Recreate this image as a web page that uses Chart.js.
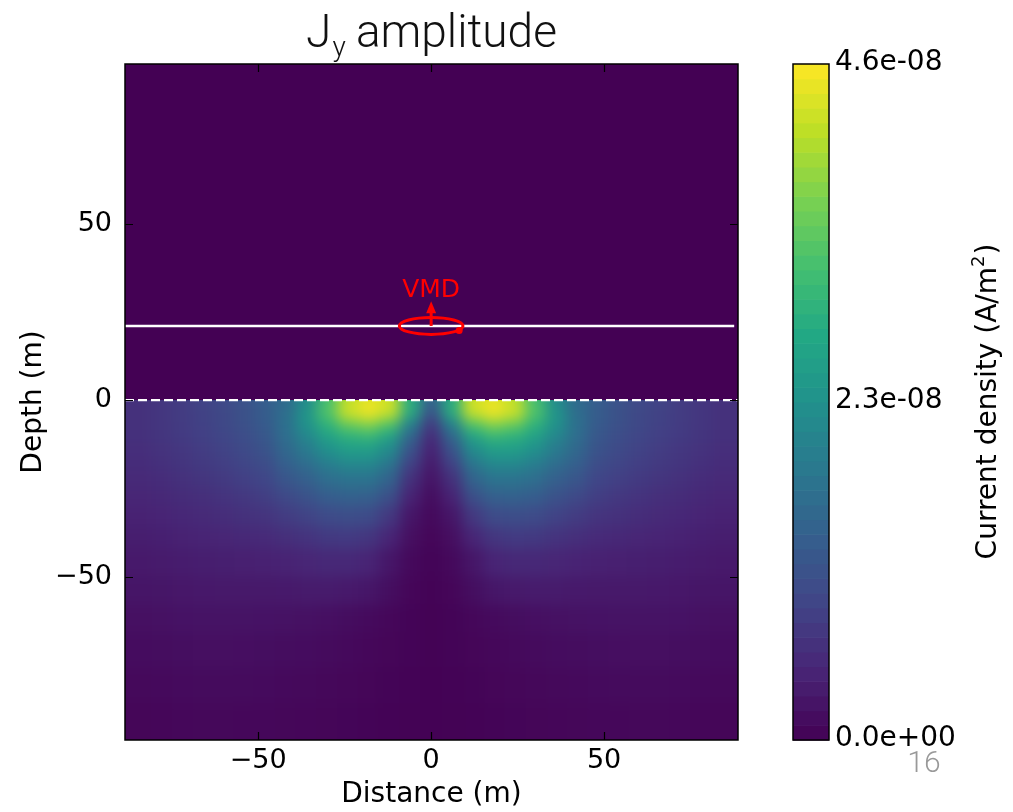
<!DOCTYPE html>
<html>
<head>
<meta charset="utf-8">
<script src="https://cdn.jsdelivr.net/npm/chart.js@4.4.1/dist/chart.umd.min.js"></script>
<style>
  html, body { margin: 0; padding: 0; background: #fff; }
  #wrap { width: 1013px; height: 812px; }
</style>
</head>
<body>
<div id="wrap"><canvas id="c" width="1013" height="812"></canvas></div>
<script>
// ----- data (Jy amplitude, in 1e-9 A/m2) -----
const xCenters = [-84, -78, -72, -66, -60, -54, -48, -42, -36, -30, -24, -18, -12, -6, 0,
                  6, 12, 18, 24, 30, 36, 42, 48, 54, 60, 66, 72, 78, 84];
const depthEdges = [0, -2, -4, -6, -9, -12, -16, -20, -25, -30, -36, -42, -50, -58, -66, -76, -86, -96.3];

const jyRows = [
  [6.5,7.2,8,9,10,11.5,13.5,16,22,32,41,44,42,28,14,28,42,44,41,32,22,16,13.5,11.5,10,9,8,7.2,6.5],
  [6.6,7.3,8.1,9,10,11.5,13.5,16.5,24,34,44,46,44,30,13,30,44,46,44,34,24,16.5,13.5,11.5,10,9,8.1,7.3,6.6],
  [6.6,7.3,8,9,10,11.5,13.5,17,24,32,40,43,39,25,10,25,39,43,40,32,24,17,13.5,11.5,10,9,8,7.3,6.6],
  [6.5,7.2,8,8.8,9.8,11.2,13,17,23,29,34,36,32,19,7.5,19,32,36,34,29,23,17,13,11.2,9.8,8.8,8,7.2,6.5],
  [6.3,7,7.8,8.6,9.5,10.8,12.5,16.5,21,26,29,30,26,15,5.5,15,26,30,29,26,21,16.5,12.5,10.8,9.5,8.6,7.8,7,6.3],
  [6.1,6.7,7.4,8.2,9,10.2,11.8,15.5,19,23,25.5,25.5,22,12,4.4,12,22,25.5,25.5,23,19,15.5,11.8,10.2,9,8.2,7.4,6.7,6.1],
  [5.8,6.3,7,7.7,8.5,9.5,10.8,14,16.5,19.5,21.5,21.5,18,9,3.4,9,18,21.5,21.5,19.5,16.5,14,10.8,9.5,8.5,7.7,7,6.3,5.8],
  [5.4,5.8,6.4,7,7.7,8.6,9.6,12.2,14,16.5,17.5,17.5,14.5,6.5,2.5,6.5,14.5,17.5,17.5,16.5,14,12.2,9.6,8.6,7.7,7,6.4,5.8,5.4],
  [4.9,5.2,5.7,6.2,6.8,7.5,8.3,10,11.5,13.5,14.2,14,11,4.5,1.6,4.5,11,14,14.2,13.5,11.5,10,8.3,7.5,6.8,6.2,5.7,5.2,4.9],
  [4.3,4.6,5,5.4,5.9,6.4,6.9,8,9,10.4,10.8,10.4,7.5,2.8,1.1,2.8,7.5,10.4,10.8,10.4,9,8,6.9,6.4,5.9,5.4,5,4.6,4.3],
  [3.8,4,4.3,4.6,4.9,5.2,5.5,6.2,6.8,7.6,7.8,7.2,4.8,1.8,0.7,1.8,4.8,7.2,7.8,7.6,6.8,6.2,5.5,5.2,4.9,4.6,4.3,4,3.8],
  [3.2,3.4,3.6,3.8,3.9,4.1,4.2,4.5,4.9,5.2,5.2,4.6,2.8,1.1,0.4,1.1,2.8,4.6,5.2,5.2,4.9,4.5,4.2,4.1,3.9,3.8,3.6,3.4,3.2],
  [2.6,2.7,2.9,3,3.1,3.1,3.1,3.2,3.4,3.4,3.2,2.8,1.7,0.7,0.3,0.7,1.7,2.8,3.2,3.4,3.4,3.2,3.1,3.1,3.1,3,2.9,2.7,2.6],
  [2,2.1,2.3,2.4,2.4,2.35,2.3,2.2,2.1,1.9,1.6,1.2,0.8,0.45,0.2,0.45,0.8,1.2,1.6,1.9,2.1,2.2,2.3,2.35,2.4,2.4,2.3,2.1,2],
  [1.5,1.6,1.7,1.8,1.8,1.75,1.7,1.6,1.5,1.3,1.05,0.85,0.6,0.35,0.2,0.35,0.6,0.85,1.05,1.3,1.5,1.6,1.7,1.75,1.8,1.8,1.7,1.6,1.5],
  [1,1.1,1.2,1.3,1.3,1.25,1.2,1.1,1,0.9,0.75,0.6,0.4,0.25,0.15,0.25,0.4,0.6,0.75,0.9,1,1.1,1.2,1.25,1.3,1.3,1.2,1.1,1],
  [0.6,0.7,0.8,0.9,0.9,0.85,0.8,0.75,0.7,0.6,0.5,0.4,0.3,0.2,0.1,0.2,0.3,0.4,0.5,0.6,0.7,0.75,0.8,0.85,0.9,0.9,0.8,0.7,0.6]
];
const jyMax = 46;

const xMin = -88.5, xMax = 88.7;
const yMin = -96.3, yMax = 95.2;
const xTicks = [-50, 0, 50];
const yTicks = [-50, 0, 50];
const cbTicks = [0, 23, 46];
const cbTickLabels = ['0.0e+00', '2.3e-08', '4.6e-08'];

const receiverLine = [{ x: -88.5, y: 21 }, { x: 87.6, y: 21 }];
const surfaceLine = [{ x: -88.5, y: 0 }, { x: 88.7, y: 0 }];
const loopCenter = { x: 0, y: 21 };
const loopRadius = 9.2, loopFlat = 2.4, momentTop = 28;

// ----- viridis -----
const viridisStops = ['#440154', '#482475', '#414487', '#355f8d', '#2a788e', '#21918c',
                      '#22a884', '#44bf70', '#7ad151', '#bddf26', '#fde725'];
function hexRgb(h) {
  return [parseInt(h.slice(1, 3), 16), parseInt(h.slice(3, 5), 16), parseInt(h.slice(5, 7), 16)];
}
function viridis(t) {
  t = Math.max(0, Math.min(1, t));
  const p = t * 10, i = Math.min(9, Math.floor(p)), f = p - i;
  const a = hexRgb(viridisStops[i]), b = hexRgb(viridisStops[i + 1]);
  const c = a.map((v, k) => Math.round(v + (b[k] - v) * f));
  return 'rgb(' + c.join(',') + ')';
}

const tickFont = { family: 'DejaVu Sans', size: 27 };
const labelFont = { family: 'DejaVu Sans', size: 28 };
function fmtTick(v) {
  return v < 0 ? '\u2212' + Math.abs(v) : '' + v;
}

// --- heat map of the field, drawn under the lines ---
const fieldPlugin = {
  id: 'jyField',
  beforeDatasetsDraw(chart) {
    const { ctx, chartArea: a, scales: { x, y } } = chart;
    ctx.save();
    ctx.fillStyle = viridis(0);
    ctx.fillRect(a.left, a.top, a.right - a.left, a.bottom - a.top);

    const off = document.createElement('canvas');
    off.width = chart.width;
    off.height = chart.height;
    const o = off.getContext('2d');
    const pad = 30;
    jyRows.forEach((row, r) => {
      let top = y.getPixelForValue(depthEdges[r]);
      let bot = y.getPixelForValue(depthEdges[r + 1]);
      if (r === 0) top -= pad;
      if (r === jyRows.length - 1) bot += pad;
      row.forEach((v, c) => {
        let l = x.getPixelForValue(c === 0 ? xMin : (xCenters[c - 1] + xCenters[c]) / 2);
        let rt = x.getPixelForValue(c === row.length - 1 ? xMax : (xCenters[c] + xCenters[c + 1]) / 2);
        if (c === 0) l -= pad;
        if (c === row.length - 1) rt += pad;
        o.fillStyle = viridis(v / jyMax);
        o.fillRect(l, top, rt - l + 0.6, bot - top + 0.6);
      });
    });
    const y0 = y.getPixelForValue(0);
    ctx.beginPath();
    ctx.rect(a.left, y0, a.right - a.left, a.bottom - y0);
    ctx.clip();
    ctx.filter = 'blur(7px)';
    ctx.drawImage(off, 0, 0);
    ctx.restore();
  }
};

// --- frame, ticks, VMD, colorbar, title ---
const framePlugin = {
  id: 'frame',
  afterDatasetsDraw(chart) {
    const { ctx, chartArea: a, scales: { x, y, cb } } = chart;
    ctx.save();

    // VMD loop
    const cx = x.getPixelForValue(loopCenter.x), cy = y.getPixelForValue(loopCenter.y);
    const rx = x.getPixelForValue(loopCenter.x + loopRadius) - cx;
    const ry = y.getPixelForValue(loopCenter.y) - y.getPixelForValue(loopCenter.y + loopFlat);
    ctx.strokeStyle = '#ff0000';
    ctx.fillStyle = '#ff0000';
    ctx.lineWidth = 3;
    ctx.beginPath();
    ctx.ellipse(cx, cy, rx, ry, 0, 0, Math.PI * 2);
    ctx.stroke();
    ctx.beginPath();
    ctx.arc(cx + rx * 0.88, cy + ry * 0.55, 3.5, 0, Math.PI * 2);
    ctx.fill();
    const tipY = y.getPixelForValue(momentTop);
    ctx.beginPath();
    ctx.moveTo(cx, cy);
    ctx.lineTo(cx, tipY + 10);
    ctx.stroke();
    ctx.beginPath();
    ctx.moveTo(cx, tipY);
    ctx.lineTo(cx - 5, tipY + 12);
    ctx.lineTo(cx + 5, tipY + 12);
    ctx.closePath();
    ctx.fill();
    ctx.font = '25px "DejaVu Sans"';
    ctx.textAlign = 'center';
    ctx.textBaseline = 'alphabetic';
    ctx.fillText('VMD', cx, tipY - 4);

    // frame + inward ticks
    ctx.strokeStyle = '#000';
    ctx.lineWidth = 1.5;
    ctx.strokeRect(a.left, a.top, a.right - a.left, a.bottom - a.top);
    ctx.lineWidth = 1.2;
    ctx.beginPath();
    xTicks.forEach(v => {
      const px = Math.round(x.getPixelForValue(v)) + 0.5;
      ctx.moveTo(px, a.bottom); ctx.lineTo(px, a.bottom - 8);
      ctx.moveTo(px, a.top); ctx.lineTo(px, a.top + 8);
    });
    yTicks.forEach(v => {
      const py = Math.round(y.getPixelForValue(v)) + 0.5;
      ctx.moveTo(a.left, py); ctx.lineTo(a.left + 8, py);
      ctx.moveTo(a.right, py); ctx.lineTo(a.right - 8, py);
    });
    ctx.stroke();

    // colorbar
    const cbL = 793, cbW = 36;
    for (let k = 0; k < jyMax; k++) {
      const t0 = cb.getPixelForValue(k), t1 = cb.getPixelForValue(k + 1);
      ctx.fillStyle = viridis((k + 0.5) / jyMax);
      ctx.fillRect(cbL, t1, cbW, t0 - t1 + 0.6);
    }
    ctx.strokeStyle = '#000';
    ctx.lineWidth = 1.5;
    ctx.strokeRect(cbL, cb.getPixelForValue(jyMax), cbW, cb.getPixelForValue(0) - cb.getPixelForValue(jyMax));
    ctx.fillStyle = '#000';
    ctx.font = '28px "DejaVu Sans"';
    ctx.textAlign = 'left';
    ctx.textBaseline = 'middle';
    cbTicks.forEach((v, i) => ctx.fillText(cbTickLabels[i], cbL + cbW + 6, cb.getPixelForValue(v) - 1));

    // colorbar label with superscript
    const midY = (cb.getPixelForValue(0) + cb.getPixelForValue(jyMax)) / 2;
    ctx.save();
    ctx.translate(986, midY);
    ctx.rotate(-Math.PI / 2);
    const p1 = 'Current density (A/m', p2 = '2', p3 = ')';
    ctx.font = '28px "DejaVu Sans"';
    const w1 = ctx.measureText(p1).width, w3 = ctx.measureText(p3).width;
    ctx.font = '18px "DejaVu Sans"';
    const w2 = ctx.measureText(p2).width;
    const sx = -(w1 + w2 + w3) / 2;
    ctx.textBaseline = 'alphabetic';
    ctx.font = '28px "DejaVu Sans"';
    ctx.fillText(p1, sx, 10);
    ctx.font = '18px "DejaVu Sans"';
    ctx.fillText(p2, sx + w1, -2);
    ctx.font = '28px "DejaVu Sans"';
    ctx.fillText(p3, sx + w1 + w2 + 1, 10);
    ctx.restore();

    // title J_y amplitude
    const tMid = (a.left + a.right) / 2;
    ctx.fillStyle = '#111';
    ctx.textBaseline = 'alphabetic';
    ctx.font = '300 46px Roboto';
    const wJ = ctx.measureText('J').width, wA = ctx.measureText(' amplitude').width;
    ctx.font = '300 28px Roboto';
    const wy = ctx.measureText('y').width;
    const tx = tMid - (wJ + wy + wA) / 2;
    ctx.font = '300 46px Roboto';
    ctx.fillText('J', tx, 47);
    ctx.font = '300 28px Roboto';
    ctx.fillText('y', tx + wJ + 1, 56);
    ctx.font = '300 46px Roboto';
    ctx.fillText(' amplitude', tx + wJ + wy, 47);

    // slide number
    ctx.fillStyle = '#999';
    ctx.font = '300 30px Roboto';
    ctx.textAlign = 'center';
    ctx.fillText('16', 924, 772);
    ctx.restore();
  }
};

Chart.defaults.font.family = 'DejaVu Sans';
Chart.defaults.color = '#000';

new Chart(document.getElementById('c'), {
  type: 'scatter',
  data: {
    datasets: [
      { type: 'line', data: receiverLine, borderColor: '#ffffff', borderWidth: 2.5, pointRadius: 0 },
      { type: 'line', data: surfaceLine, borderColor: '#ffffff', borderWidth: 2.2, borderDash: [9, 4], pointRadius: 0 }
    ]
  },
  options: {
    responsive: false,
    animation: false,
    devicePixelRatio: 1,
    layout: { padding: { top: 64, right: 275, left: 0, bottom: 0 } },
    plugins: { legend: { display: false }, tooltip: { enabled: false } },
    scales: {
      x: {
        type: 'linear', min: xMin, max: xMax,
        afterBuildTicks: s => { s.ticks = xTicks.map(v => ({ value: v })); },
        afterFit: s => { s.height = 72; },
        grid: { display: false, drawTicks: false },
        border: { display: false },
        ticks: { padding: 5, font: tickFont, color: '#000', callback: fmtTick, maxRotation: 0 },
        title: { display: true, text: 'Distance (m)', font: labelFont, color: '#000', padding: { top: 0, bottom: 0 } }
      },
      y: {
        type: 'linear', min: yMin, max: yMax,
        afterBuildTicks: s => { s.ticks = yTicks.map(v => ({ value: v })); },
        afterFit: s => { s.width = 125; },
        grid: { display: false, drawTicks: false },
        border: { display: false },
        ticks: { padding: 13, font: tickFont, color: '#000', callback: fmtTick },
        title: { display: true, text: 'Depth (m)', font: labelFont, color: '#000', padding: { top: 17, bottom: 0 } }
      },
      cb: { type: 'linear', axis: 'y', position: 'right', display: false, min: 0, max: jyMax }
    }
  },
  plugins: [fieldPlugin, framePlugin]
});
</script>
</body>
</html>
